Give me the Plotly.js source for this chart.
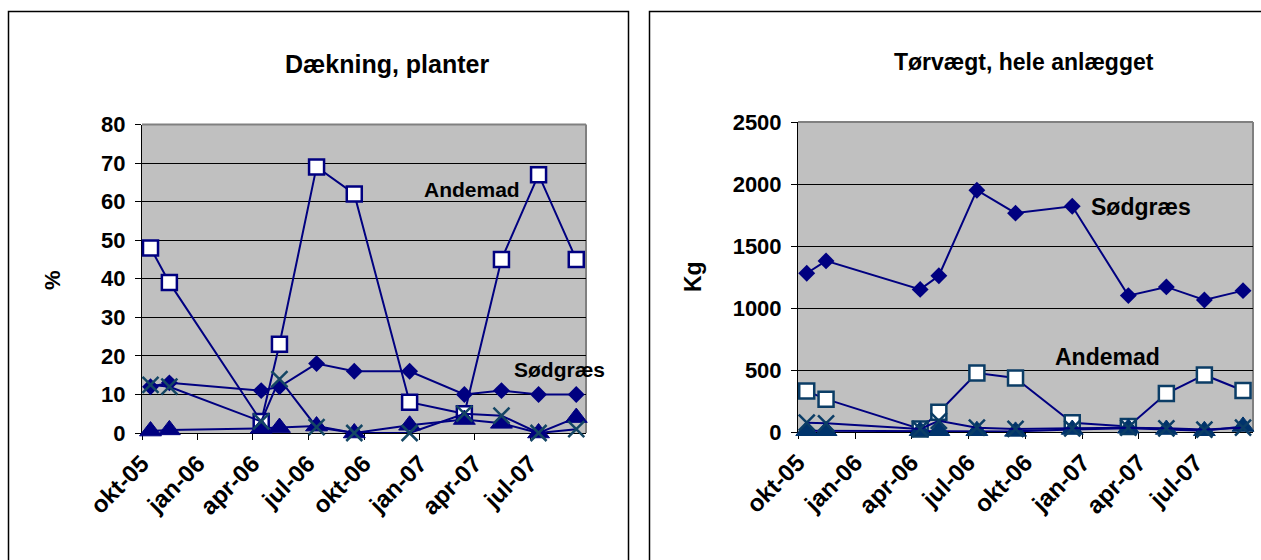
<!DOCTYPE html>
<html>
<head>
<meta charset="utf-8">
<script src="https://cdn.plot.ly/plotly-3.0.1.min.js"></script>
<style>html,body{margin:0;padding:0;background:#fff;}#chart{width:1261px;height:560px;}</style>
</head>
<body>
<div id="chart"></div>
<script>
// Sampling dates (shared by both charts)
const dates = ['2005-10-15','2005-11-15','2006-04-15','2006-05-15','2006-07-15','2006-09-15','2006-12-15','2007-03-15','2007-05-15','2007-07-15','2007-09-15'];

// Left chart: Dækning, planter (%)
const coverAndemad = [48, 39, 3, 23, 69, 62, 8, 5, 45, 67, 45];
const coverSodgraes = [12, 13, 11, 12, 18, 16, 16, 10, 11, 10, 10];
const coverSerie3 = [0.5, 0.8, 1.2, 1.4, 1.8, 0, 2, 3.5, 2.5, 0, 4];
const coverSerie4 = [12.5, 12, 3, 14, 1.5, 0, 0, 5, 4.5, 0, 1];

// Right chart: Tørvægt, hele anlægget (Kg)
const dwSodgraes = [1280, 1380, 1150, 1260, 1950, 1765, 1820, 1100, 1170, 1065, 1140];
const dwAndemad = [330, 265, 25, 160, 475, 435, 75, 45, 310, 460, 335];
const dwSerie3 = [10, 10, 10, 10, 10, 5, 20, 30, 20, 10, 45];
const dwSerie4 = [75, 70, 25, 90, 35, 25, 30, 35, 30, 20, 35];

// Axis ticks
const tickDates = ['2005-10-01','2006-01-01','2006-04-01','2006-07-01','2006-10-01','2007-01-01','2007-04-01','2007-07-01'];
const tickLabels = ['okt-05','jan-06','apr-06','jul-06','okt-06','jan-07','apr-07','jul-07'];

const FONT = 'Liberation Sans, Arial, sans-serif';
const NAVY = '#000080';
const TEAL = '#144664';
const DARKB = '#0B3D66';

function sq(x, y, xa, ya, border) {
  return {x: x, y: y, xaxis: xa, yaxis: ya, type: 'scatter', mode: 'lines+markers', name: 'Andemad', cliponaxis: false,
    line: {color: NAVY, width: 2},
    marker: {symbol: 'square', size: 15, color: '#ffffff', line: {color: border, width: 2.5}}};
}
function dia(x, y, xa, ya) {
  return {x: x, y: y, xaxis: xa, yaxis: ya, type: 'scatter', mode: 'lines+markers', name: 'Sødgræs', cliponaxis: false,
    line: {color: NAVY, width: 2},
    marker: {symbol: 'diamond', size: 13, color: NAVY}};
}
function tri(x, y, xa, ya, col) {
  return {x: x, y: y, xaxis: xa, yaxis: ya, type: 'scatter', mode: 'lines+markers', name: 'Serie 3', cliponaxis: false,
    line: {color: NAVY, width: 2},
    marker: {symbol: 'triangle-up', size: 19, color: col, line: {color: col, width: 1}}};
}
function cross(x, y, xa, ya, col) {
  return {x: x, y: y, xaxis: xa, yaxis: ya, type: 'scatter', mode: 'lines+markers', name: 'Serie 4', cliponaxis: false,
    line: {color: NAVY, width: 2},
    marker: {symbol: 'x-thin', size: 16, color: col, line: {color: col, width: 2.5}}};
}

const traces = [
  dia(dates, coverSodgraes, 'x', 'y'),
  sq(dates, coverAndemad, 'x', 'y', NAVY),
  tri(dates, coverSerie3, 'x', 'y', NAVY),
  cross(dates, coverSerie4, 'x', 'y', TEAL),
  dia(dates, dwSodgraes, 'x2', 'y2'),
  sq(dates, dwAndemad, 'x2', 'y2', DARKB),
  tri(dates, dwSerie3, 'x2', 'y2', '#00336B'),
  cross(dates, dwSerie4, 'x2', 'y2', DARKB)
];

const yTickFont = {family: FONT, size: 22, color: '#000', weight: 'bold'};
const xTickFont = {family: FONT, size: 24, color: '#000', weight: 'bold'};
function xax(domain, anchor) {
  return {domain: domain, anchor: anchor, type: 'date', range: ['2005-10-01', '2007-10-01'],
    tickmode: 'array', tickvals: tickDates, ticktext: tickLabels, tickangle: -45,
    ticks: 'outside', ticklen: 6, tickcolor: '#000', tickwidth: 1,
    showline: true, linecolor: '#000', linewidth: 1, showgrid: false, zeroline: false,
    tickfont: xTickFont, fixedrange: true, layer: 'below traces'};
}
function yax(domain, anchor, max, dtick) {
  return {domain: domain, anchor: anchor, range: [0, max], dtick: dtick, tick0: 0,
    ticks: 'outside', ticklen: 6, tickcolor: '#000', tickwidth: 1,
    showline: true, linecolor: '#000', linewidth: 1,
    showgrid: true, gridcolor: '#000', gridwidth: 1, zeroline: false,
    tickfont: yTickFont, ticklabelstandoff: 5, fixedrange: true, layer: 'below traces'};
}

const W = 1261, H = 560;
const px = v => v / W, py = v => (H - v) / H;

function ann(x, y, text, size, angle) {
  return {xref: 'paper', yref: 'paper', x: px(x), y: py(y), xanchor: 'center', yanchor: 'middle',
    text: text, showarrow: false, textangle: angle || 0,
    font: {family: FONT, size: size, weight: 'bold', color: '#000'}};
}

const layout = {
  width: W, height: H,
  margin: {l: 0, r: 0, t: 0, b: 0},
  paper_bgcolor: '#ffffff', plot_bgcolor: '#C0C0C0',
  showlegend: false,
  font: {family: FONT, color: '#000'},
  xaxis: xax([px(142), px(586)], 'y'),
  yaxis: yax([py(433), py(124.5)], 'x', 80, 10),
  xaxis2: xax([px(798), px(1253)], 'y2'),
  yaxis2: yax([py(432), py(122)], 'x2', 2500, 500),
  shapes: [
    {type: 'rect', xref: 'paper', yref: 'paper', x0: px(8.5), x1: px(628.5), y0: -0.05, y1: py(11.5), line: {color: '#000', width: 1.5}, layer: 'below'},
    {type: 'rect', xref: 'paper', yref: 'paper', x0: px(649.5), x1: 1.05, y0: -0.05, y1: py(11.5), line: {color: '#000', width: 1.5}, layer: 'below'},
    {type: 'line', xref: 'paper', yref: 'paper', x0: px(142), x1: px(586), y0: py(124.5), y1: py(124.5), line: {color: '#808080', width: 2}, layer: 'below'},
    {type: 'line', xref: 'paper', yref: 'paper', x0: px(586), x1: px(586), y0: py(124.5), y1: py(433), line: {color: '#808080', width: 2}, layer: 'below'},
    {type: 'line', xref: 'paper', yref: 'paper', x0: px(798), x1: px(1253), y0: py(122), y1: py(122), line: {color: '#808080', width: 2}, layer: 'below'},
    {type: 'line', xref: 'paper', yref: 'paper', x0: px(1253), x1: px(1253), y0: py(122), y1: py(432), line: {color: '#808080', width: 2}, layer: 'below'}
  ],
  annotations: [
    ann(387, 64, 'Dækning, planter', 25),
    ann(1024, 62, 'Tørvægt, hele anlægget', 23),
    ann(52, 280, '%', 22, -90),
    ann(693, 277, 'Kg', 23, -90),
    ann(472, 189, 'Andemad', 21),
    ann(559, 369, 'Sødgræs', 21),
    ann(1141, 207, 'Sødgræs', 23),
    ann(1107, 357, 'Andemad', 23)
  ]
};

Plotly.newPlot('chart', traces, layout, {staticPlot: true, displayModeBar: false});
</script>
</body>
</html>
